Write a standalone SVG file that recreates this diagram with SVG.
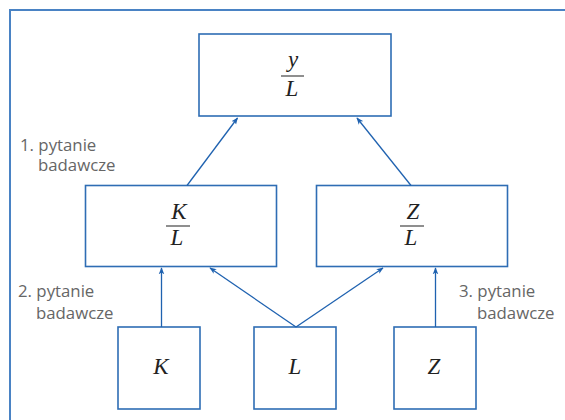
<svg xmlns="http://www.w3.org/2000/svg" width="565" height="420" viewBox="0 0 565 420">
<defs>
<style>
.box{fill:#fff;stroke:#2e6db4;stroke-width:1.6}
.m{font-family:"Liberation Serif",serif;font-style:italic;font-size:23px;fill:#222;text-anchor:middle}
.fl{stroke:#333;stroke-width:1.1}
.lbl{font-family:"Open Sans","Noto Sans",sans-serif;font-size:16.8px;fill:#666}
.c{stroke:#1f62b0;stroke-width:1.3;fill:none;marker-end:url(#ah)}
</style>
<marker id="ah" viewBox="0 0 10 10" refX="9" refY="5" markerWidth="7" markerHeight="7" markerUnits="userSpaceOnUse" orient="auto">
<path d="M0,1 L10,5 L0,9 L2.5,5 Z" fill="#1f62b0"/>
</marker>
</defs>
<rect width="565" height="420" fill="#fff"/>
<path d="M10,420 V10 H565" fill="none" stroke="#4a83c4" stroke-width="2"/>
<g id="yL">
<rect class="box" x="199" y="34" width="192" height="82"/>
<text class="m" x="293" y="67">y</text>
<line class="fl" x1="281" y1="76" x2="304" y2="76"/>
<text class="m" x="292" y="96">L</text>
</g>
<g id="KL">
<rect class="box" x="85.5" y="185.5" width="191" height="81"/>
<text class="m" x="179" y="219">K</text>
<line class="fl" x1="166" y1="226" x2="190" y2="226"/>
<text class="m" x="177" y="245">L</text>
</g>
<g id="ZL">
<rect class="box" x="316.5" y="185.5" width="191" height="81"/>
<text class="m" x="413" y="219">Z</text>
<line class="fl" x1="400" y1="226" x2="424" y2="226"/>
<text class="m" x="411" y="245">L</text>
</g>
<g id="K">
<rect class="box" x="118" y="327" width="82" height="82"/>
<text class="m" x="161" y="374">K</text>
</g>
<g id="L">
<rect class="box" x="254" y="327" width="82" height="82"/>
<text class="m" x="295" y="374">L</text>
</g>
<g id="Z">
<rect class="box" x="394" y="327" width="82" height="82"/>
<text class="m" x="434" y="374">Z</text>
</g>
<g id="labels">
<text class="lbl" x="20" y="150.5">1. pytanie</text>
<text class="lbl" x="38" y="170.5">badawcze</text>
<text class="lbl" x="18" y="297">2. pytanie</text>
<text class="lbl" x="36" y="319">badawcze</text>
<text class="lbl" x="459" y="297">3. pytanie</text>
<text class="lbl" x="477" y="319">badawcze</text>
</g>
<g id="connectors">
<line class="c" x1="187" y1="185.5" x2="237.5" y2="118"/>
<line class="c" x1="411" y1="185.5" x2="357" y2="118"/>
<line class="c" x1="161.5" y1="327" x2="161.5" y2="268"/>
<line class="c" x1="296" y1="327" x2="210" y2="268"/>
<line class="c" x1="296" y1="327" x2="383" y2="268"/>
<line class="c" x1="435.5" y1="327" x2="435.5" y2="268"/>
</g>
</svg>
